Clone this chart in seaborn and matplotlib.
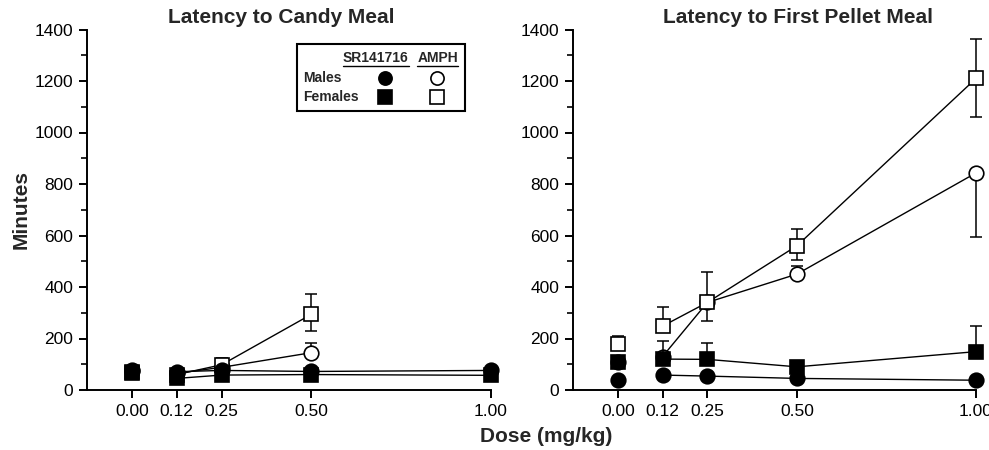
import matplotlib
matplotlib.use("Agg")
import matplotlib.pyplot as plt
from matplotlib.patches import Rectangle
from matplotlib.ticker import MultipleLocator
import seaborn as sns
import numpy as np

# ---------------- data ----------------
doses = [0.0, 0.125, 0.25, 0.5, 1.0]
dose_labels = ["0.00", "0.12", "0.25", "0.50", "1.00"]

# Latency to Candy Meal (AMPH tested only up to 0.50)
candy_sr_m = [78, 71, 76, 72, 76]
candy_sr_f = [66, 45, 58, 60, 57]
candy_amph_m = [75, 65, 88, 145]
candy_amph_f = [70, 60, 98, 294]
candy_sr_m_lo = [0, 0, 0, 0, 0]
candy_sr_m_hi = [0, 0, 0, 0, 0]
candy_sr_f_lo = [0, 0, 0, 0, 0]
candy_sr_f_hi = [0, 0, 0, 0, 0]
candy_amph_m_lo = [0, 0, 0, 0]
candy_amph_m_hi = [0, 0, 10, 38]
candy_amph_f_lo = [0, 0, 0, 65]
candy_amph_f_hi = [0, 0, 28, 78]

# Latency to First Pellet Meal
pellet_sr_m = [40, 58, 54, 45, 38]
pellet_sr_f = [110, 120, 119, 90, 149]
pellet_amph_m = [110, 130, 340, 450, 843]
pellet_amph_f = [180, 248, 340, 560, 1210]
pellet_sr_m_lo = [0, 0, 0, 0, 0]
pellet_sr_m_hi = [0, 0, 0, 0, 0]
pellet_sr_f_lo = [0, 0, 0, 0, 0]
pellet_sr_f_hi = [20, 70, 63, 0, 100]
pellet_amph_m_lo = [0, 0, 0, 0, 250]
pellet_amph_m_hi = [0, 0, 0, 32, 0]
pellet_amph_f_lo = [0, 0, 72, 55, 148]
pellet_amph_f_hi = [30, 76, 120, 66, 155]

titles = ["Latency to Candy Meal", "Latency to First Pellet Meal"]

# ---------------- style ----------------
sns.set_style("ticks")
plt.rcParams["font.family"] = ["Liberation Sans", "DejaVu Sans"]
plt.rcParams["axes.linewidth"] = 1.4
plt.rcParams["xtick.major.width"] = 1.4
plt.rcParams["ytick.major.width"] = 1.4
plt.rcParams["ytick.minor.width"] = 1.4

fig = plt.figure(figsize=(9.89, 4.5), dpi=100)
axL = fig.add_axes([87 / 989, 60 / 450, 404 / 989, 360.5 / 450])
axR = fig.add_axes([573 / 989, 60 / 450, 403 / 989, 360.5 / 450])

# (values, lo, hi, marker, facecolor, zorder)
def series(vm, vf, am, af, errs):
    return [
        (am, errs[4], errs[5], "o", "white", 3),
        (af, errs[6], errs[7], "s", "white", 4),
        (vf, errs[2], errs[3], "s", "black", 5),
        (vm, errs[0], errs[1], "o", "black", 6),
    ]

panels = [
    (axL, series(candy_sr_m, candy_sr_f, candy_amph_m, candy_amph_f,
                 [candy_sr_m_lo, candy_sr_m_hi, candy_sr_f_lo, candy_sr_f_hi,
                  candy_amph_m_lo, candy_amph_m_hi, candy_amph_f_lo, candy_amph_f_hi]), titles[0], 0.48),
    (axR, series(pellet_sr_m, pellet_sr_f, pellet_amph_m, pellet_amph_f,
                 [pellet_sr_m_lo, pellet_sr_m_hi, pellet_sr_f_lo, pellet_sr_f_hi,
                  pellet_amph_m_lo, pellet_amph_m_hi, pellet_amph_f_lo, pellet_amph_f_hi]), titles[1], 0.558),
]

MS = 10.5
for ax, sers, title, tx in panels:
    for vals, lo, hi, mk, fc, z in sers:
        n = len(vals)
        x = doses[:n]
        ax.errorbar(x, vals, yerr=[lo, hi], fmt="none", ecolor="black",
                    elinewidth=1.1, capsize=4, capthick=1.1, zorder=z - 0.5,
                    clip_on=False)
        # connected dose-response (drug doses)
        sns.lineplot(x=x[1:], y=vals[1:], ax=ax, color="black", linewidth=1.0,
                     marker=mk, markersize=MS, markerfacecolor=fc,
                     markeredgecolor="black", markeredgewidth=1.2,
                     estimator=None, sort=False, zorder=z, clip_on=False)
        # vehicle point (unconnected)
        sns.lineplot(x=x[:1], y=vals[:1], ax=ax, color="black", linewidth=0,
                     marker=mk, markersize=MS, markerfacecolor=fc,
                     markeredgecolor="black", markeredgewidth=1.2,
                     estimator=None, zorder=z, clip_on=False)

    ax.set_xlim(-0.125, 1.0)
    ax.set_ylim(0, 1400)
    ax.set_xticks(doses)
    ax.set_xticklabels(dose_labels)
    ax.yaxis.set_major_locator(MultipleLocator(200))
    ax.yaxis.set_minor_locator(MultipleLocator(100))
    ax.tick_params(axis="both", which="major", direction="out", length=6,
                   labelsize=12.5, pad=4, color="black", labelcolor="black")
    ax.tick_params(axis="y", which="minor", direction="out", length=4)
    ax.set_xlabel("")
    ax.set_ylabel("")
    ax.set_title(title, x=tx, fontsize=15, fontweight="bold", pad=5)
    sns.despine(ax=ax)
    for sp in ("left", "bottom"):
        ax.spines[sp].set_color("black")

axL.set_ylabel("Minutes", fontsize=15, fontweight="bold", labelpad=3)
fig.text(546 / 989, 1 - 437 / 450, "Dose (mg/kg)", ha="center", va="center",
         fontsize=15, fontweight="bold")

# ---------------- legend (axes-fraction layout in left panel) ----------------
tr = axL.transAxes
axL.add_patch(Rectangle((0.52, 0.775), 0.416, 0.185, transform=tr,
                        facecolor="white", edgecolor="black", linewidth=1.5,
                        zorder=20, clip_on=False))
hdrs = []
hdrs.append(axL.text(0.715, 0.921, "SR141716", transform=tr, ha="center",
                     va="center", fontsize=10, fontweight="bold", zorder=21))
hdrs.append(axL.text(0.868, 0.921, "AMPH", transform=tr, ha="center",
                     va="center", fontsize=10, fontweight="bold", zorder=21))
axL.text(0.535, 0.865, "Males", transform=tr, ha="left", va="center",
         fontsize=10, fontweight="bold", zorder=21)
axL.text(0.535, 0.813, "Females", transform=tr, ha="left", va="center",
         fontsize=10, fontweight="bold", zorder=21)
leg_items = [(0.7376, 0.865, "o", "black"), (0.866, 0.865, "o", "white"),
             (0.7376, 0.813, "s", "black"), (0.866, 0.813, "s", "white")]
for lx, ly, mk, fc in leg_items:
    axL.plot([lx], [ly], transform=tr, marker=mk, markersize=9.5,
             markerfacecolor=fc, markeredgecolor="black", markeredgewidth=1.2,
             linestyle="none", zorder=22, clip_on=False)

fig.canvas.draw()
inv = tr.inverted()
for t in hdrs:
    bb = t.get_window_extent()
    (x0, y0), (x1, y1) = inv.transform([(bb.x0, bb.y0), (bb.x1, bb.y0)])
    axL.plot([x0, x1], [y0 - 0.004, y0 - 0.004], transform=tr, color="black",
             linewidth=1.0, zorder=22, clip_on=False)

fig.savefig("out.png", dpi=100)
